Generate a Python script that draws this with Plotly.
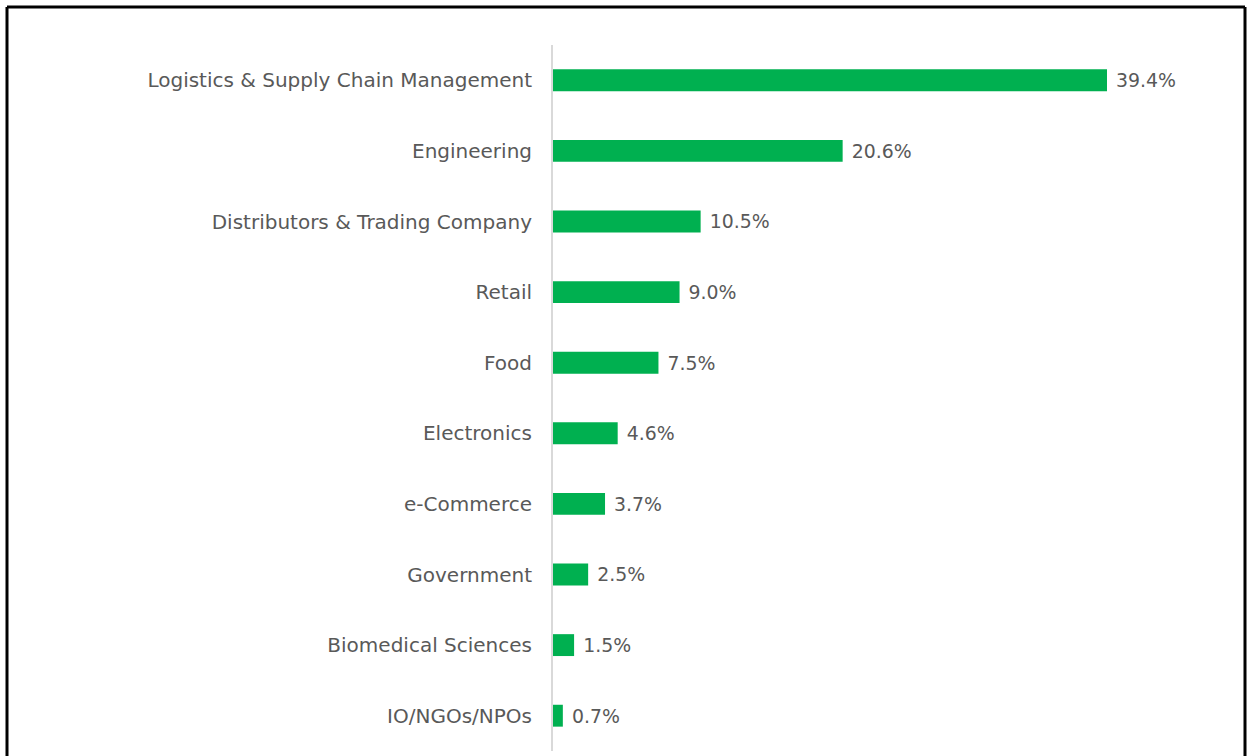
import plotly.graph_objects as go

categories = ["Logistics & Supply Chain Management", "Engineering", "Distributors & Trading Company",
              "Retail", "Food", "Electronics", "e-Commerce", "Government",
              "Biomedical Sciences", "IO/NGOs/NPOs"]
values = [39.4, 20.6, 10.5, 9.0, 7.5, 4.6, 3.7, 2.5, 1.5, 0.7]

W, H = 1248, 756
L, R, T, B = 553, 1215, 45, 751
FONT = "DejaVu Sans"

def px(x):
    return (x - L) / (R - L)

def py(y):
    return (B - y) / (B - T)

fig = go.Figure(go.Bar(
    x=values, y=categories, orientation="h",
    marker=dict(color="#00b050", line=dict(width=0)),
    width=0.31,
    text=[f" {v:.1f}%" for v in values],
    textposition="outside", cliponaxis=False,
    textfont=dict(color="#595959", size=19, family=FONT),
))

fig.update_yaxes(categoryorder="array", categoryarray=categories[::-1],
                 showline=True, linecolor="#d9d9d9", linewidth=2,
                 ticks="", ticklabelstandoff=15, showgrid=False,
                 tickfont=dict(color="#595959", size=20, family=FONT))
fig.update_xaxes(range=[0, (R - L) / (554 / 39.4)], visible=False, showgrid=False)

line = dict(color="black", width=3)
fig.update_layout(
    width=W, height=H, plot_bgcolor="white", paper_bgcolor="white",
    margin=dict(l=L, r=W - R, t=T, b=H - B, autoexpand=False),
    showlegend=False,
    shapes=[
        dict(type="line", xref="paper", yref="paper", x0=px(7), x1=px(1245), y0=py(7), y1=py(7), line=line),
        dict(type="line", xref="paper", yref="paper", x0=px(7), x1=px(7), y0=py(7), y1=py(770), line=line),
        dict(type="line", xref="paper", yref="paper", x0=px(1245), x1=px(1245), y0=py(7), y1=py(770), line=line),
    ],
)

fig.write_html("out.html", config={"displayModeBar": False},
               post_script="document.body.style.margin='0';document.body.style.overflow='hidden';")
